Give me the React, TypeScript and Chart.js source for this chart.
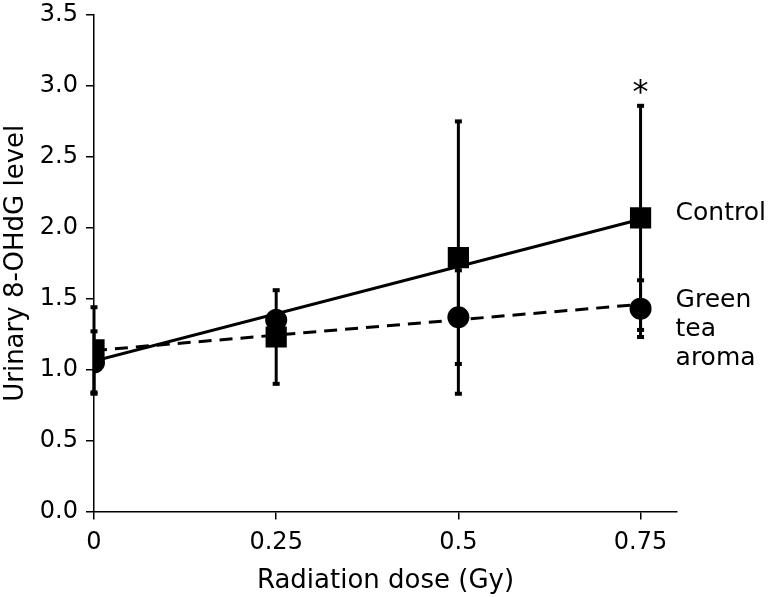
import React, { useEffect, useRef } from "react";
import { Chart, registerables } from "chart.js";

Chart.register(...registerables);

// ---- data ----
const doses = [0, 0.25, 0.5, 0.75];
const controlMean = [1.14, 1.23, 1.79, 2.07];
const controlErr = [0.3, 0.33, 0.96, 0.79];
const teaMean = [1.05, 1.35, 1.37, 1.43];
const teaErr = [0.22, 0.06, 0.33, 0.2];
const fitX = [0, 0.75];
const controlFit = [1.06, 2.06];
const teaFit = [1.135, 1.46];
const xTicks = [0, 0.25, 0.5, 0.75];
const xTickLabels = ["0", "0.25", "0.5", "0.75"];
const controlLabel = ["Control"];
const teaLabel = ["Green", "tea", "aroma"];
const starIndex = 3;

const FONT = "'DejaVu Sans', Verdana, sans-serif";

const errorBarPlugin = {
  id: "errorBars",
  beforeDatasetsDraw(chart: any) {
    const { ctx, scales } = chart;
    const xs = scales.x;
    const ys = scales.y;
    ctx.save();
    ctx.strokeStyle = "#000";
    ctx.fillStyle = "#000";
    ctx.lineWidth = 3;
    const draw = (means: number[], errs: number[]) => {
      means.forEach((m, i) => {
        const px = xs.getPixelForValue(doses[i]);
        const top = ys.getPixelForValue(m + errs[i]);
        const bot = ys.getPixelForValue(m - errs[i]);
        ctx.beginPath();
        ctx.moveTo(px, top);
        ctx.lineTo(px, bot);
        ctx.stroke();
        ctx.fillRect(px - 3.5, top - 2, 7, 4);
        ctx.fillRect(px - 3.5, bot - 2, 7, 4);
      });
    };
    draw(controlMean, controlErr);
    draw(teaMean, teaErr);
    ctx.restore();
  },
  afterDatasetsDraw(chart: any) {
    const { ctx, scales } = chart;
    const xs = scales.x;
    const ys = scales.y;
    ctx.save();
    ctx.fillStyle = "#000";
    // asterisk
    const sx = xs.getPixelForValue(doses[starIndex]);
    const sy = ys.getPixelForValue(controlMean[starIndex] + controlErr[starIndex]);
    ctx.font = `32px ${FONT}`;
    ctx.textAlign = "center";
    ctx.textBaseline = "alphabetic";
    ctx.fillText("*", sx, sy - 4);
    // series labels
    const lx = xs.getPixelForValue(doses[3]) + 35;
    ctx.textAlign = "left";
    ctx.font = `25px ${FONT}`;
    const cy = ys.getPixelForValue(controlMean[3]);
    controlLabel.forEach((t, i) => ctx.fillText(t, lx, cy + 2 + i * 29));
    const ty = ys.getPixelForValue(teaMean[3]);
    teaLabel.forEach((t, i) => ctx.fillText(t, lx, ty - 2 + i * 29));
    ctx.restore();
  },
};

export default function App() {
  const ref = useRef<HTMLCanvasElement | null>(null);
  useEffect(() => {
    if (!ref.current) return;
    const chart = new Chart(ref.current, {
      type: "scatter",
      data: {
        datasets: [
          {
            label: "Control fit",
            data: fitX.map((x, i) => ({ x, y: controlFit[i] })),
            showLine: true,
            borderColor: "#000",
            borderWidth: 3,
            pointRadius: 0,
          },
          {
            label: "Tea fit",
            data: fitX.map((x, i) => ({ x, y: teaFit[i] })),
            showLine: true,
            borderColor: "#000",
            borderWidth: 3,
            borderDash: [13, 8],
            pointRadius: 0,
          },
          {
            label: "Green tea aroma",
            data: doses.map((x, i) => ({ x, y: teaMean[i] })),
            pointStyle: "circle",
            pointRadius: 11,
            backgroundColor: "#000",
            borderColor: "#000",
            borderWidth: 0,
          },
          {
            label: "Control",
            data: doses.map((x, i) => ({ x, y: controlMean[i] })),
            pointStyle: "rect",
            pointRadius: 15,
            backgroundColor: "#000",
            borderColor: "#000",
            borderWidth: 0,
          },
        ],
      },
      options: {
        animation: false,
        responsive: true,
        maintainAspectRatio: false,
        layout: { padding: { top: 11, right: 97, left: 0, bottom: 0 } },
        plugins: { legend: { display: false }, tooltip: { enabled: false } },
        scales: {
          x: {
            type: "linear",
            min: 0,
            max: 0.8,
            afterBuildTicks: (s: any) => {
              s.ticks = xTicks.map((v) => ({ value: v }));
            },
            afterFit: (s: any) => {
              s.height = 85.5;
              s.paddingLeft = 0;
              s.paddingRight = 0;
            },
            ticks: {
              color: "#000",
              font: { family: FONT, size: 24 },
              padding: 9,
              maxRotation: 0,
              callback: (v: any) => {
                const i = xTicks.indexOf(Number(v));
                return i >= 0 ? xTickLabels[i] : "";
              },
            },
            grid: { drawOnChartArea: false, tickLength: 8, color: "#000", lineWidth: 1.5 },
            border: { display: true, color: "#000", width: 1.5 },
            title: {
              display: true,
              text: "Radiation dose (Gy)",
              color: "#000",
              font: { family: FONT, size: 26 },
              padding: { top: 0, bottom: 0 },
            },
          },
          y: {
            min: 0,
            max: 3.5,
            afterFit: (s: any) => {
              s.width = 94;
              s.paddingTop = 0;
              s.paddingBottom = 0;
            },
            ticks: {
              stepSize: 0.5,
              color: "#000",
              font: { family: FONT, size: 24 },
              padding: 8,
              callback: (v: any) => Number(v).toFixed(1),
            },
            grid: { drawOnChartArea: false, tickLength: 8, color: "#000", lineWidth: 1.5 },
            border: { display: true, color: "#000", width: 1.5 },
            title: {
              display: true,
              text: "Urinary 8-OHdG level",
              color: "#000",
              font: { family: FONT, size: 26 },
              padding: { top: 1, bottom: 0 },
            },
          },
        },
      },
      plugins: [errorBarPlugin],
    });
    return () => chart.destroy();
  }, []);
  return (
    <div style={{ position: "fixed", left: 0, top: 0, width: 774, height: 597, background: "#fff" }}>
      <canvas ref={ref} />
    </div>
  );
}
